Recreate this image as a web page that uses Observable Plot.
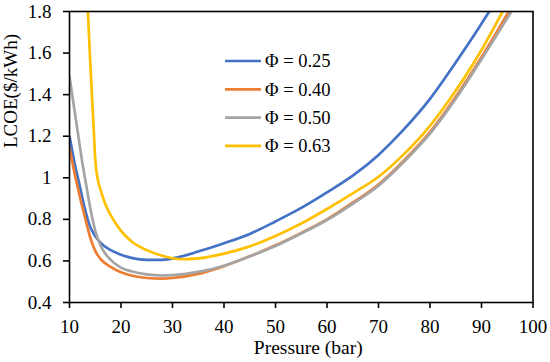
<!DOCTYPE html>
<html>
<head>
<meta charset="utf-8">
<script src="https://cdn.jsdelivr.net/npm/d3@7"></script>
<script src="https://cdn.jsdelivr.net/npm/@observablehq/plot@0.6"></script>
<style>
  html, body { margin: 0; padding: 0; background: #fff; }
  #chart { width: 550px; height: 362px; }
</style>
</head>
<body>
<div id="chart"></div>
<script>
// ---- data ----
const seriesNames = ["Φ = 0.25", "Φ = 0.40", "Φ = 0.50", "Φ = 0.63"];
const seriesColors = ["#4472C4", "#ED7D31", "#A5A5A5", "#FFC000"];

const pressure025 = [10, 11, 12, 13, 14, 15, 16, 18, 20, 22, 25, 28, 30, 35, 40, 45, 50, 55, 60, 65, 70, 75, 80, 85, 88, 91.5];
const lcoe025     = [1.2, 1.07, 0.96, 0.85, 0.765, 0.72, 0.688, 0.652, 0.63, 0.615, 0.605, 0.605, 0.612, 0.645, 0.685, 0.73, 0.79, 0.855, 0.93, 1.01, 1.11, 1.235, 1.38, 1.555, 1.665, 1.8];

const pressure040 = [10, 11, 12, 13, 14, 15, 16, 18, 20, 22, 25, 28, 30, 35, 40, 45, 50, 55, 60, 65, 70, 75, 80, 85, 90, 95.3];
const lcoe040     = [1.143, 1.02, 0.91, 0.81, 0.715, 0.648, 0.61, 0.571, 0.545, 0.53, 0.518, 0.515, 0.518, 0.538, 0.575, 0.622, 0.675, 0.735, 0.80, 0.88, 0.968, 1.085, 1.22, 1.39, 1.58, 1.8];

const pressure050 = [10, 11, 12, 12.4, 13, 14, 15, 16, 18, 20, 22, 25, 28, 30, 35, 40, 45, 50, 55, 60, 65, 70, 75, 80, 85, 90, 95.8];
const lcoe050     = [1.487, 1.32, 1.153, 1.086, 1.0, 0.86, 0.745, 0.675, 0.605, 0.568, 0.55, 0.535, 0.53, 0.532, 0.547, 0.577, 0.622, 0.672, 0.732, 0.797, 0.875, 0.962, 1.078, 1.212, 1.38, 1.57, 1.8];

const pressure063 = [13.57, 14, 14.67, 15, 15.5, 16, 17, 18, 20, 22, 25, 28, 30, 32, 35, 40, 45, 50, 55, 60, 65, 70, 75, 80, 85, 90, 94.1];
const lcoe063     = [1.8, 1.57, 1.25, 1.09, 0.99, 0.945, 0.87, 0.82, 0.745, 0.695, 0.652, 0.625, 0.613, 0.608, 0.612, 0.635, 0.67, 0.72, 0.78, 0.85, 0.925, 1.005, 1.115, 1.25, 1.42, 1.615, 1.8];

const xTicks = [10, 20, 30, 40, 50, 60, 70, 80, 90, 100];
const yTicks = [0.4, 0.6, 0.8, 1, 1.2, 1.4, 1.6, 1.8];
const xLabel = "Pressure (bar)";
const yLabel = "LCOE($/kWh)";

// ---- build rows ----
const seriesP = [pressure025, pressure040, pressure050, pressure063];
const seriesL = [lcoe025, lcoe040, lcoe050, lcoe063];
const rowsBySeries = seriesP.map((ps, i) => ps.map((p, j) => ({p, v: seriesL[i][j], s: seriesNames[i]})));

const font = "Liberation Serif";

const plot = Plot.plot({
  width: 550,
  height: 362,
  marginLeft: 69,
  marginRight: 17.5,
  marginTop: 11,
  marginBottom: 60,
  style: {fontFamily: font, fontSize: "19px", color: "black", background: "white"},
  x: {domain: [10, 100], label: null},
  y: {domain: [0.4, 1.8], label: null},
  marks: [
    Plot.axisX({ticks: xTicks, tickSize: 6, tickPadding: 11, label: null, fontSize: 19,
                fontFamily: font, strokeWidth: 1.6}),
    Plot.axisY({ticks: yTicks, tickSize: 6, tickPadding: 12, label: null, fontSize: 19,
                fontFamily: font, strokeWidth: 1.6,
                tickFormat: d => String(+d.toFixed(1))}),
    ...rowsBySeries.map((rows, i) =>
      Plot.line(rows, {x: "p", y: "v", stroke: seriesColors[i], strokeWidth: 2.7,
                       curve: "monotone-x", clip: true})),
    Plot.frame({stroke: "black", strokeWidth: 1.6}),
    Plot.text([xLabel], {frameAnchor: "bottom", text: d => d, dy: 45, dx: 7,
                         lineAnchor: "middle", fontSize: 19.5, fontFamily: font}),
    Plot.text([yLabel], {frameAnchor: "left", text: d => d, dx: -59, dy: -9, rotate: -90,
                         lineAnchor: "middle", fontSize: 19, fontFamily: font})
  ]
});

// ---- legend inside plot area ----
const svg = d3.select(plot);
const lg = svg.append("g").attr("font-family", font).attr("font-size", 18.5).attr("text-anchor", "start");
seriesNames.forEach((name, i) => {
  const y = 61 + i * 28.3;
  lg.append("line").attr("x1", 225).attr("x2", 261).attr("y1", y).attr("y2", y)
    .attr("stroke", seriesColors[i]).attr("stroke-width", 2.7);
  lg.append("text").attr("x", 265).attr("y", y).attr("dy", "0.34em")
    .attr("fill", "black").text(name);
});

document.getElementById("chart").appendChild(plot);
</script>
</body>
</html>
